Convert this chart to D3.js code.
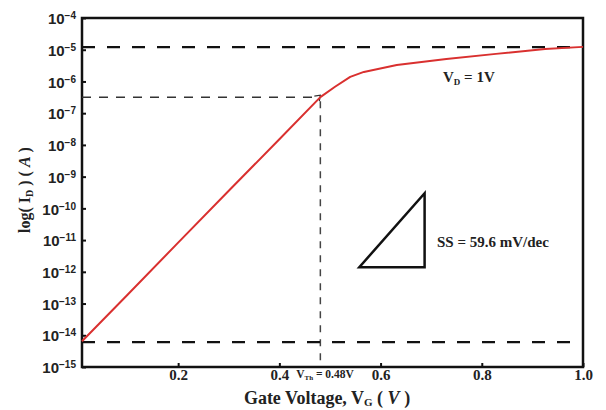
<!DOCTYPE html>
<html>
<head>
<meta charset="utf-8">
<script src="https://cdn.jsdelivr.net/npm/d3@7"></script>
<style>
  html, body { margin: 0; padding: 0; background: #fff; }
  svg { display: block; font-family: "Liberation Serif", "Times New Roman", serif; font-weight: bold; }
</style>
</head>
<body>
<svg id="chart" width="606" height="410"></svg>
<script>
// Transfer characteristic: gate voltage (V) vs drain current (A)
const gateVoltage = [0.01, 0.1, 0.2, 0.3, 0.4, 0.481, 0.51, 0.54, 0.567, 0.632, 0.73, 0.828, 0.925, 1.0];
const drainCurrent = [6.5e-15, 1.9e-13, 8.3e-12, 3.6e-10, 1.5e-8, 3.2e-7, 6.8e-7, 1.4e-6, 2.0e-6, 3.3e-6, 5.1e-6, 7.4e-6, 1.05e-5, 1.23e-5];

const xTicks = [0.2, 0.4, 0.6, 0.8, 1.0];
const yTickExponents = [-4, -5, -6, -7, -8, -9, -10, -11, -12, -13, -14, -15];

// Reference levels
const onCurrent = 1.2e-5;
const offCurrent = 6.1e-15;
const thresholdVoltage = 0.481;
const thresholdCurrent = 3.2e-7;

// Subthreshold-slope triangle corners (V, A)
const slopeTriangle = [[0.558, 1.4e-12], [0.687, 1.4e-12], [0.687, 3.0e-10]];

const svg = d3.select("#chart");
const margin = { left: 82, right: 23, top: 18, bottom: 43 };
const W = 606, H = 410;

const x = d3.scaleLinear().domain([0.01, 1.0]).range([margin.left, W - margin.right]);
const y = d3.scaleLog().domain([1e-15, 1e-4]).range([H - margin.bottom, margin.top]);

// Axes with short inward ticks
const xAxis = d3.axisBottom(x).tickValues(xTicks).tickSize(-4).tickFormat(d3.format(".1f")).tickPadding(2);
const yAxis = d3.axisLeft(y).tickValues(yTickExponents.map(e => Math.pow(10, e))).tickSize(-4).tickFormat("");

const gx = svg.append("g").attr("transform", `translate(0,${H - margin.bottom})`).call(xAxis);
gx.select(".domain").remove();
gx.selectAll(".tick line").attr("stroke", "#111").attr("stroke-width", 2);
gx.selectAll(".tick text").attr("font-size", 15).attr("font-family", "Liberation Serif").attr("font-weight", "bold").attr("fill", "#222");

const gy = svg.append("g").attr("transform", `translate(${margin.left},0)`).call(yAxis);
gy.select(".domain").remove();
gy.selectAll(".tick line").attr("stroke", "#111").attr("stroke-width", 2);

// Y tick labels as 10 with a superscript exponent
gy.selectAll(".tick").each(function(d) {
  const e = Math.round(Math.log10(d));
  const t = d3.select(this).append("text")
    .attr("x", -6).attr("dy", "0.38em").attr("text-anchor", "end")
    .attr("fill", "#222").attr("font-size", 15).attr("font-weight", "bold");
  t.append("tspan").text("10");
  t.append("tspan").attr("dy", "-0.5em").attr("font-size", 10).text("\u2212" + Math.abs(e));
});

// Plot frame
svg.append("rect")
  .attr("x", margin.left).attr("y", margin.top)
  .attr("width", W - margin.left - margin.right)
  .attr("height", H - margin.top - margin.bottom)
  .attr("fill", "none").attr("stroke", "#111").attr("stroke-width", 2.5);

// Threshold guides
svg.append("line")
  .attr("x1", x(thresholdVoltage)).attr("x2", x(thresholdVoltage))
  .attr("y1", y(thresholdCurrent) + 4).attr("y2", H - margin.bottom)
  .attr("stroke", "#444").attr("stroke-width", 1.5).attr("stroke-dasharray", "7,7");
svg.append("line")
  .attr("x1", margin.left).attr("x2", x(thresholdVoltage))
  .attr("y1", y(thresholdCurrent)).attr("y2", y(thresholdCurrent))
  .attr("stroke", "#333").attr("stroke-width", 1.5).attr("stroke-dasharray", "9,8");
// small arrowhead where the guide meets the curve
const ax = x(thresholdVoltage), ay = y(thresholdCurrent);
svg.append("path")
  .attr("d", `M${ax - 6},${ay - 1} L${ax},${ay - 2} L${ax - 1},${ay + 4}`)
  .attr("fill", "none").attr("stroke", "#333").attr("stroke-width", 1.2);

// On/off current levels
[onCurrent, offCurrent].forEach(v => {
  svg.append("line")
    .attr("x1", margin.left).attr("x2", W - margin.right)
    .attr("y1", y(v)).attr("y2", y(v))
    .attr("stroke", "#111").attr("stroke-width", 2.2).attr("stroke-dasharray", "13,12");
});

// Id-Vg curve
const line = d3.line().x((d, i) => x(gateVoltage[i])).y(d => y(d));
svg.append("path")
  .datum(drainCurrent)
  .attr("d", line)
  .attr("fill", "none").attr("stroke", "#d9302f").attr("stroke-width", 2)
  .attr("stroke-linejoin", "round");

// Subthreshold slope triangle
svg.append("path")
  .attr("d", d3.line().x(d => x(d[0])).y(d => y(d[1]))(slopeTriangle) + "Z")
  .attr("fill", "none").attr("stroke", "#111").attr("stroke-width", 2.5).attr("stroke-linejoin", "miter");

svg.append("text").attr("x", 437).attr("y", 247)
  .attr("font-size", 15).attr("fill", "#222").text("SS = 59.6 mV/dec");

// Drain bias label
const vd = svg.append("text").attr("x", 443).attr("y", 82).attr("font-size", 15).attr("fill", "#222");
vd.append("tspan").text("V");
vd.append("tspan").attr("dy", 3).attr("font-size", 9).text("D");
vd.append("tspan").attr("dy", -3).text(" = 1V");

// Threshold voltage label
const vth = svg.append("text").attr("x", 325).attr("y", 378).attr("text-anchor", "middle").attr("font-size", 11.5).attr("fill", "#222");
vth.append("tspan").text("V");
vth.append("tspan").attr("dy", 2).attr("font-size", 7).text("Th");
vth.append("tspan").attr("dy", -2).text(" = 0.48V");

// Axis titles
const xt = svg.append("text").attr("x", 327).attr("y", 404).attr("text-anchor", "middle").attr("font-size", 18).attr("fill", "#222");
xt.append("tspan").text("Gate Voltage, V");
xt.append("tspan").attr("dy", 2).attr("font-size", 11).text("G");
xt.append("tspan").attr("dy", -2).text(" ( ");
xt.append("tspan").attr("font-style", "italic").text("V");
xt.append("tspan").text(" )");

const yt = svg.append("text").attr("transform", "translate(30,190) rotate(-90)").attr("text-anchor", "middle").attr("font-size", 16).attr("fill", "#222");
yt.append("tspan").text("log( I");
yt.append("tspan").attr("dy", 3).attr("font-size", 10).text("D");
yt.append("tspan").attr("dy", -3).text(" ) ( ");
yt.append("tspan").attr("font-style", "italic").text("A");
yt.append("tspan").text(" )");
</script>
</body>
</html>
